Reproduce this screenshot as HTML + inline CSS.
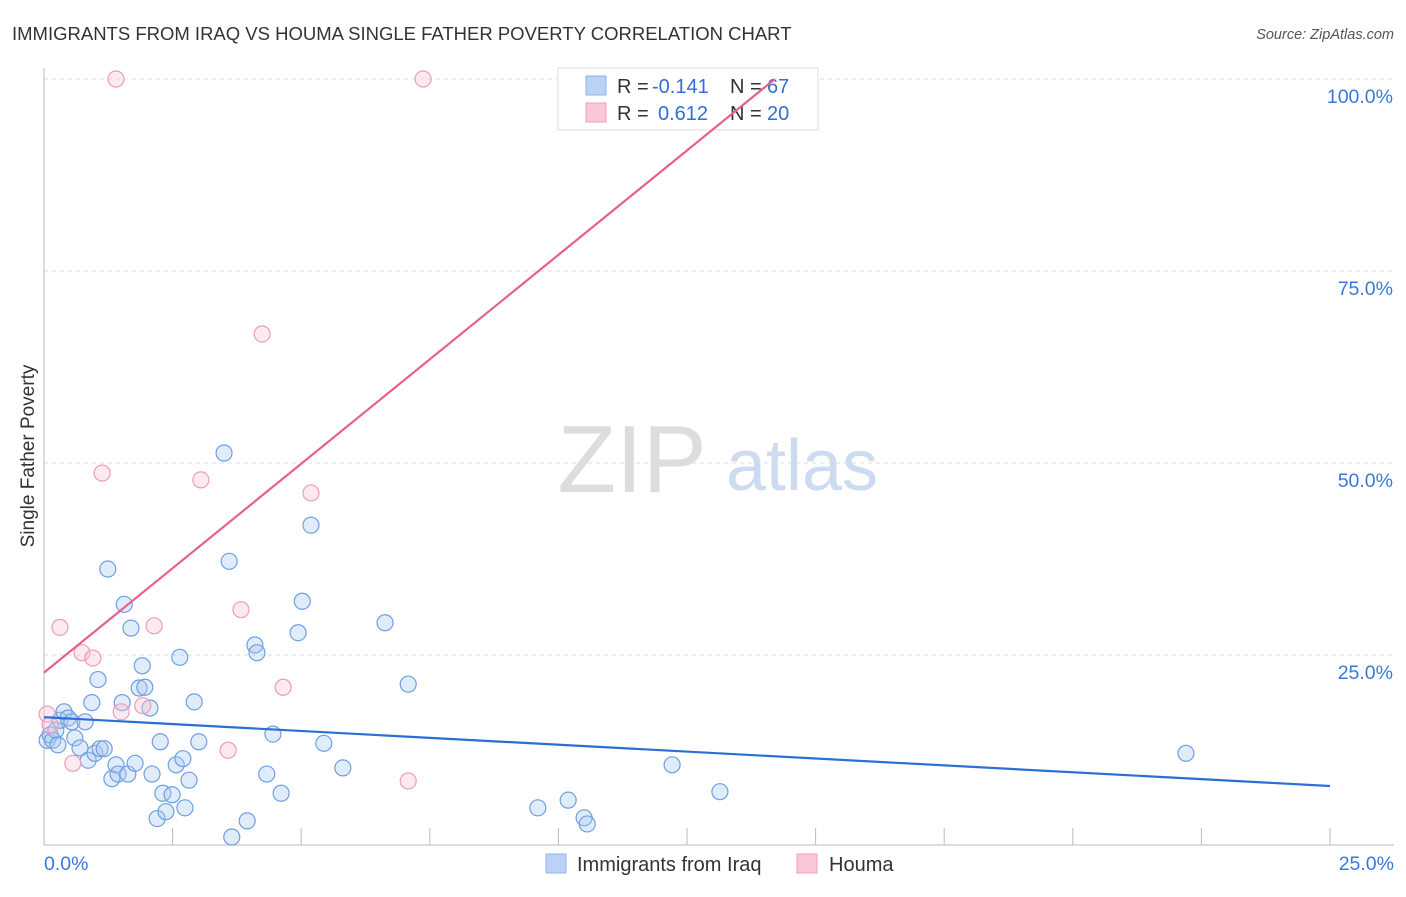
<!DOCTYPE html>
<html><head><meta charset="utf-8"><style>
body{margin:0;background:#fff;font-family:"Liberation Sans",sans-serif;}
svg text{font-family:"Liberation Sans",sans-serif;}
</style></head><body>
<svg id="c" width="1406" height="892">
<text x="12" y="40" font-size="18.5" fill="#333">IMMIGRANTS FROM IRAQ VS HOUMA SINGLE FATHER POVERTY CORRELATION CHART</text>
<text x="1394" y="39" font-size="14.5" fill="#555" font-style="italic" text-anchor="end">Source: ZipAtlas.com</text>
<text x="34" y="456" font-size="19" fill="#333" transform="rotate(-90 34 456)" text-anchor="middle">Single Father Poverty</text>
<text x="632" y="492" font-size="96" fill="#ddd" font-family="Liberation Serif" text-anchor="middle">ZIP</text>
<text x="802" y="490" font-size="72" fill="#cddbf0" text-anchor="middle">atlas</text>
<g id="grid"></g><g id="axes"></g><g id="pts"></g>
<g>
<rect x="558" y="68" width="260" height="62" fill="#fff" stroke="#ddd"/>
<rect x="586" y="76" width="20" height="19" fill="#b9d2f5" stroke="#8fb3e8"/>
<rect x="586" y="103" width="20" height="19" fill="#f9c6d6" stroke="#f0a0ba"/>
<text x="617" y="93" font-size="20" fill="#333">R =</text>
<text x="652" y="93" font-size="20" fill="#2f6fd6">-0.141</text>
<text x="730" y="93" font-size="20" fill="#333">N =</text>
<text x="767" y="93" font-size="20" fill="#2f6fd6">67</text>
<text x="617" y="120" font-size="20" fill="#333">R =</text>
<text x="658" y="120" font-size="20" fill="#2f6fd6">0.612</text>
<text x="730" y="120" font-size="20" fill="#333">N =</text>
<text x="767" y="120" font-size="20" fill="#2f6fd6">20</text>
</g>
<g id="lines"></g>
<g>
<rect x="546" y="854" width="20" height="19" fill="#b9d2f5" stroke="#8fb3e8"/>
<text x="577" y="871" font-size="20" fill="#333">Immigrants from Iraq</text>
<rect x="797" y="854" width="20" height="19" fill="#f9c6d6" stroke="#f0a0ba"/>
<text x="829" y="871" font-size="20" fill="#333">Houma</text>
</g>
</svg>
<script>
const blueX=[0.06,0.12,0.17,0.23,0.27,0.31,0.39,0.47,0.54,0.60,0.70,0.80,0.86,0.93,0.99,1.05,1.09,1.17,1.24,1.32,1.40,1.44,1.52,1.56,1.63,1.69,1.77,1.85,1.91,1.96,2.06,2.10,2.20,2.26,2.31,2.37,2.49,2.57,2.64,2.70,2.74,2.82,2.92,3.01,3.50,3.60,3.65,3.95,4.10,4.14,4.33,4.45,4.61,4.94,5.02,5.19,5.44,5.81,6.63,7.08,9.60,10.19,10.50,10.56,12.21,13.14,22.20];
const blueY=[13.9,14.6,13.9,15.2,13.3,16.5,17.6,16.8,16.3,14.2,12.9,16.3,11.3,18.8,12.2,21.8,12.8,12.8,36.2,8.9,10.7,9.5,18.8,31.6,9.5,28.5,10.9,20.7,23.6,20.8,18.1,9.5,3.7,13.7,7.0,4.6,6.8,10.7,24.7,11.5,5.1,8.7,18.9,13.7,51.3,37.2,1.3,3.4,26.3,25.3,9.5,14.7,7.0,27.9,32.0,41.9,13.5,10.3,29.2,21.2,5.1,6.1,3.8,3.0,10.7,7.2,12.2];
const pinkX=[0.06,0.12,0.31,0.56,0.74,0.95,1.13,1.40,1.50,1.92,2.14,3.05,3.58,3.83,4.24,4.65,5.19,7.08,7.37,14.17];
const pinkY=[17.3,15.9,28.6,10.9,25.3,24.6,48.7,100,17.6,18.4,28.8,47.8,12.6,30.9,66.8,20.8,46.1,8.6,100,100];
const blueTrend=[16.9,7.94];
const pinkTrend=[22.7,5.44];
const yTicks=[25,50,75,100];
const xTicks=[0,2.5,5,7.5,10,12.5,15,17.5,20,22.5,25];
const X=v=>44+v/25*1286, Y=v=>847-v/100*768;
const NS='http://www.w3.org/2000/svg';
function mk(t,a,p){const e=document.createElementNS(NS,t);for(const k in a)e.setAttribute(k,a[k]);document.getElementById(p).appendChild(e);return e;}
yTicks.forEach(v=>{
 const l=mk('line',{x1:44,x2:1394,y1:Y(v),y2:Y(v),stroke:'#ddd','stroke-dasharray':'4,4'},'grid');
 
 
 const t=mk('text',{x:1393,y:Y(v)+24,'font-size':19.5,fill:'#3a78d8','text-anchor':'end'},'axes');
 t.textContent=v.toFixed(1)+'%';
 
 
});
const ax=mk('line',{x1:44,x2:1394,y1:845,y2:845,stroke:'#bbb'},'axes');


const ay=mk('line',{x1:44,x2:44,y1:68,y2:845,stroke:'#bbb'},'axes');


xTicks.forEach(v=>{
 const l=mk('line',{x1:X(v),x2:X(v),y1:828,y2:845,stroke:'#bbb'},'axes');
 
 
});
[[0,'start'],[25,'end']].forEach(([v,a])=>{
 const t=mk('text',{x:v==0?44:1394,y:870,'font-size':19.5,fill:'#3a78d8','text-anchor':a},'axes');
 t.textContent=v.toFixed(1)+'%';
 
 
});
blueX.forEach((x,i)=>{
 const c=mk('circle',{cx:X(x),cy:Y(blueY[i]),r:8,fill:'rgba(170,200,242,0.35)',stroke:'#6d9fe3','stroke-width':1.2},'pts');
 
 
});
pinkX.forEach((x,i)=>{
 const c=mk('circle',{cx:X(x),cy:Y(pinkY[i]),r:8,fill:'rgba(248,195,212,0.35)',stroke:'#ee9cb8','stroke-width':1.2},'pts');
 
 
});
const bl=mk('line',{x1:X(0),y1:Y(blueTrend[0]),x2:X(25),y2:Y(blueTrend[1]),stroke:'#2a6fd6','stroke-width':2.2},'lines');


const xe=(100-pinkTrend[0])/pinkTrend[1];
const pl=mk('line',{x1:X(0),y1:Y(pinkTrend[0]),x2:X(xe),y2:Y(100),stroke:'#e8608a','stroke-width':2.2},'lines');


</script>
</body></html>
